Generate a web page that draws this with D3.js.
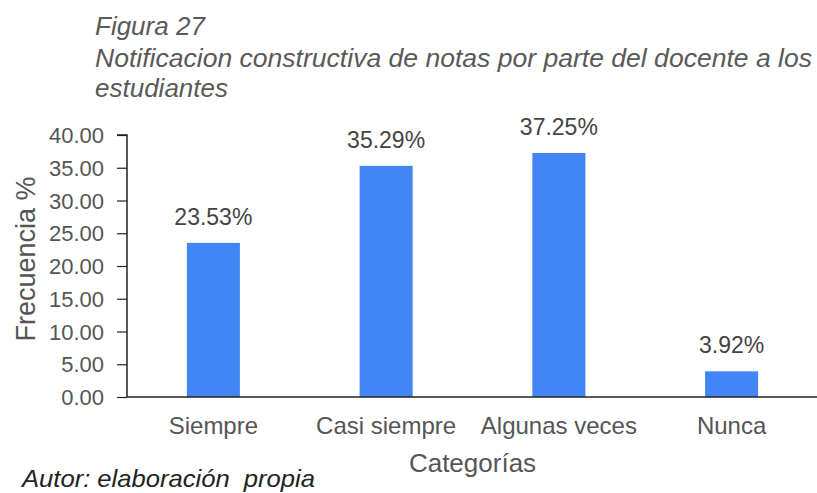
<!DOCTYPE html>
<html>
<head>
<meta charset="utf-8">
<script src="https://cdn.jsdelivr.net/npm/d3@7"></script>
<style>
  html, body { margin: 0; padding: 0; background: #fff; }
  svg { display: block; }
  text { font-family: "Liberation Sans", Arial, sans-serif; white-space: pre; }
</style>
</head>
<body>
<script>
const categories = ["Siempre", "Casi siempre", "Algunas veces", "Nunca"];
const values = [23.53, 35.29, 37.25, 3.92];
const valueLabels = ["23.53%", "35.29%", "37.25%", "3.92%"];
const yTicks = [0, 5, 10, 15, 20, 25, 30, 35, 40];
const titleLines = ["Figura 27", "Notificacion constructiva de notas por parte del docente a los", "estudiantes"];
const yTitle = "Frecuencia %";
const xTitle = "Categorías";
const footer = "Autor: elaboración  propia";

const W = 817, H = 493;
const svg = d3.select("body").append("svg").attr("width", W).attr("height", H);

const pL = 127, pR = 818, pT = 135, pB = 397;

const x = d3.scaleBand().domain(categories).range([pL, pR])
  .paddingInner(0.693).paddingOuter(0.3465);
const y = d3.scaleLinear().domain([0, 40]).range([pB, pT]);

// Title
const tl = svg.append("g");
const tlY = [35, 67, 97];
titleLines.forEach((t, i) => {
  const el = tl.append("text").attr("x", 95).attr("y", tlY[i])
    .attr("font-size", 26).attr("font-style", "italic").attr("fill", "#595959").text(t);
  if (i === 1) el.attr("textLength", 717).attr("lengthAdjust", "spacingAndGlyphs");
});

// Bars
svg.append("g").selectAll("rect").data(values).join("rect")
  .attr("x", (d, i) => x(categories[i]))
  .attr("width", x.bandwidth())
  .attr("y", d => y(d))
  .attr("height", d => y(0) - y(d))
  .attr("fill", "#4285f4");

// Value labels
svg.append("g").selectAll("text").data(values).join("text")
  .attr("x", (d, i) => x(categories[i]) + x.bandwidth() / 2)
  .attr("y", d => y(d) - 18)
  .attr("text-anchor", "middle")
  .attr("font-size", 23)
  .attr("fill", "#444")
  .text((d, i) => valueLabels[i]);

// Y axis
const yAxis = d3.axisLeft(y).tickValues(yTicks).tickFormat(d3.format(".2f")).tickSize(10).tickPadding(13);
const yg = svg.append("g").attr("transform", `translate(${pL},0)`).call(yAxis);
yg.select(".domain").attr("stroke", "#222").attr("stroke-width", 1.5).attr("d", `M-10,${pT}H0V${pB}`);
yg.selectAll(".tick line").attr("stroke", "#222").attr("stroke-width", 1.2);
yg.selectAll(".tick text").attr("font-size", 22).attr("fill", "#555")
  .attr("font-family", "'Liberation Sans', Arial, sans-serif").attr("dy", "0.35em");

// X axis (baseline)
const xAxis = d3.axisBottom(x).tickSize(0).tickPadding(20);
const xg = svg.append("g").attr("transform", `translate(0,${pB})`).call(xAxis);
xg.select(".domain").attr("stroke", "#222").attr("stroke-width", 1.5).attr("d", `M${pL},0H${W}`);
xg.selectAll(".tick text").attr("font-size", 24).attr("fill", "#555")
  .attr("font-family", "'Liberation Sans', Arial, sans-serif").attr("dy", "0.71em");

// Axis titles
svg.append("text").attr("transform", `translate(35,259) rotate(-90)`)
  .attr("text-anchor", "middle").attr("font-size", 27).attr("fill", "#555").text(yTitle);
svg.append("text").attr("x", (pL + pR) / 2).attr("y", 472)
  .attr("text-anchor", "middle").attr("font-size", 26).attr("fill", "#555").text(xTitle);

// Footer
svg.append("text").attr("x", 22).attr("y", 487).attr("font-size", 24)
  .attr("font-style", "italic").attr("fill", "#222")
  .attr("xml:space", "preserve")
  .attr("textLength", 293).attr("lengthAdjust", "spacingAndGlyphs")
  .text(footer);
</script>
</body>
</html>
